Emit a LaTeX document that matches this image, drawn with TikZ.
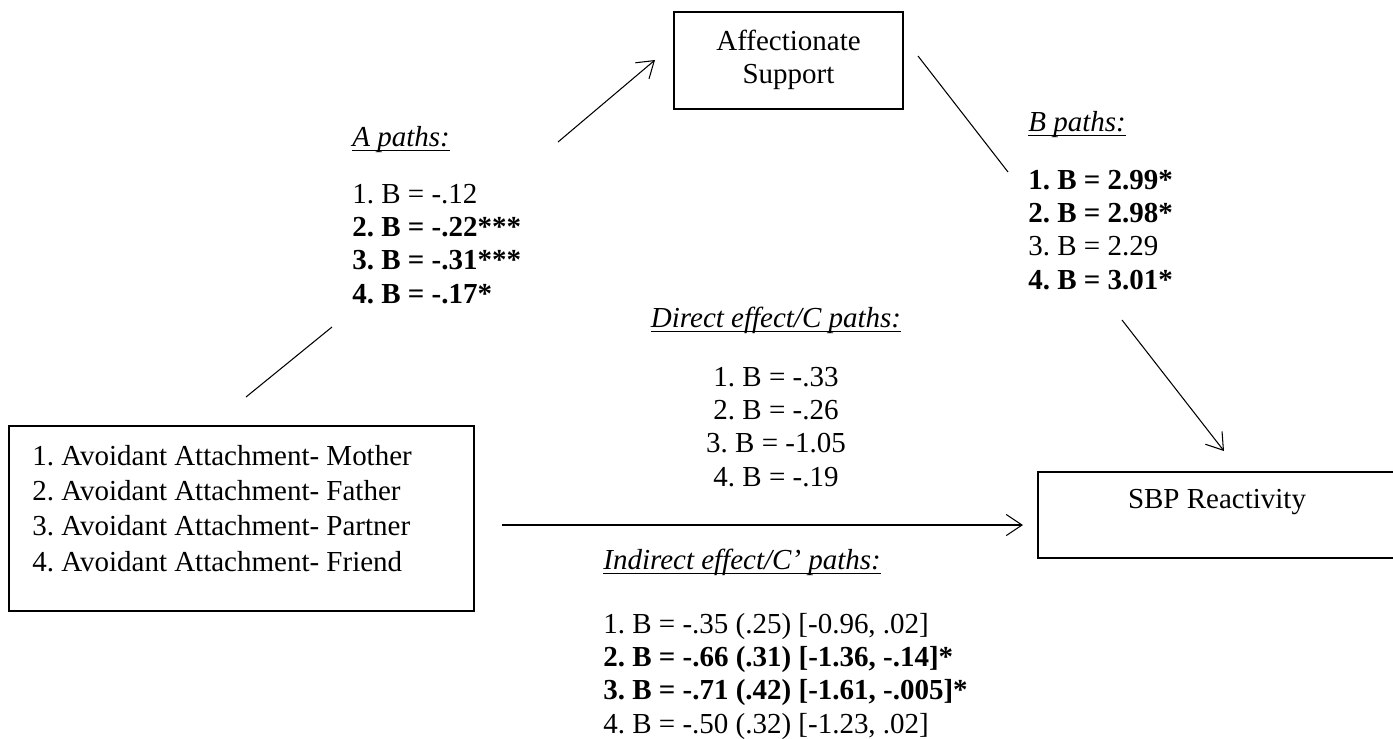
\documentclass[tikz,border=0pt]{standalone}
\usepackage{fontspec}
\setmainfont{Liberation Serif}
\usetikzlibrary{arrows.meta}
\frenchspacing
\newcommand{\statfont}{\fontsize{16.5}{19}\selectfont}
\newcommand{\pathhead}[1]{\setbox0\hbox{\textit{#1}}\rlap{\rule[-2.8pt]{\wd0}{0.8pt}}\box0}

\begin{document}
\begin{tikzpicture}[x=0.02cm,y=-0.02cm,
  box/.style={draw, line width=0.7pt, inner sep=0pt},
  txt/.style={inner sep=0pt, font=\statfont},
  link/.style={line width=0.6pt},
  effect/.style={link, -{Straight Barb[length=9pt,width=12pt]}}]
\clip (0,0) rectangle (1393,738);

% Boxes
\node[box, minimum width=4.58cm, minimum height=1.94cm, font=\statfont] (supp) at (788.5,60.5)
  {\begin{tabular}{@{}c@{}}Affectionate\\Support\end{tabular}};
\node[box, minimum width=9.3cm, minimum height=3.7cm] (avoid) at (241.5,518.5) {};
\node[txt, anchor=base west] (avoidtxt) at (32,465)
  {\def\arraystretch{1.06}\begin{tabular}[t]{@{}l@{}}
   1. Avoidant Attachment- Mother\\
   2. Avoidant Attachment- Father\\
   3. Avoidant Attachment- Partner\\
   4. Avoidant Attachment- Friend\end{tabular}};
\node[box, minimum width=7.44cm, minimum height=1.72cm] (sbp) at (1224,515) {};
\node[txt, anchor=base] (sbptxt) at (1217,508) {SBP Reactivity};

% A paths
\node[txt, anchor=base west] (ahead) at (352,146) {\pathhead{A paths:}};
\node[txt, anchor=base west] (astat) at (352,203)
  {\begin{tabular}[t]{@{}l@{}}
   1. B = -.12\\
   \textbf{2. B = -.22***}\\
   \textbf{3. B = -.31***}\\
   \textbf{4. B = -.17*}\end{tabular}};

% B paths
\node[txt, anchor=base west] (bhead) at (1028,131) {\pathhead{B paths:}};
\node[txt, anchor=base west] (bstat) at (1028,189)
  {\begin{tabular}[t]{@{}l@{}}
   \textbf{1. B = 2.99*}\\
   \textbf{2. B = 2.98*}\\
   3. B = 2.29\\
   \textbf{4. B = 3.01*}\end{tabular}};

% direct effect
\node[txt, anchor=base] (chead) at (776,327) {\pathhead{Direct effect/C paths:}};
\node[txt, anchor=base] (cstat) at (776,386)
  {\begin{tabular}[t]{@{}c@{}}
   1. B = -.33\\
   2. B = -.26\\
   3. B = -1.05\\
   4. B = -.19\end{tabular}};

% indirect effect
\node[txt, anchor=base west] (ihead) at (603,569) {\pathhead{Indirect effect/C’ paths:}};
\node[txt, anchor=base west] (istat) at (603,633)
  {\begin{tabular}[t]{@{}l@{}}
   1. B = -.35 (.25) [-0.96, .02]\\
   \textbf{2. B = -.66 (.31) [-1.36, -.14]*}\\
   \textbf{3. B = -.71 (.42) [-1.61, -.005]*}\\
   4. B = -.50 (.32) [-1.23, .02]\end{tabular}};

% line ends (broken round the labels)
\coordinate (a1) at (246,397);
\coordinate (a2) at (332,327);
\coordinate (a3) at (558,142);
\coordinate (a4) at (655,60);
\coordinate (b1) at (918,56);
\coordinate (b2) at (1008,172);
\coordinate (b3) at (1122,320);
\coordinate (b4) at (1224,451);
\coordinate (c1) at (502,525);
\coordinate (c2) at (1023,525);

\draw[link] (a1) -- (a2);
\draw[effect] (a3) -- (a4);
\draw[link] (b1) -- (b2);
\draw[effect] (b3) -- (b4);
\draw[effect] (c1) -- (c2);
\end{tikzpicture}
\end{document}
